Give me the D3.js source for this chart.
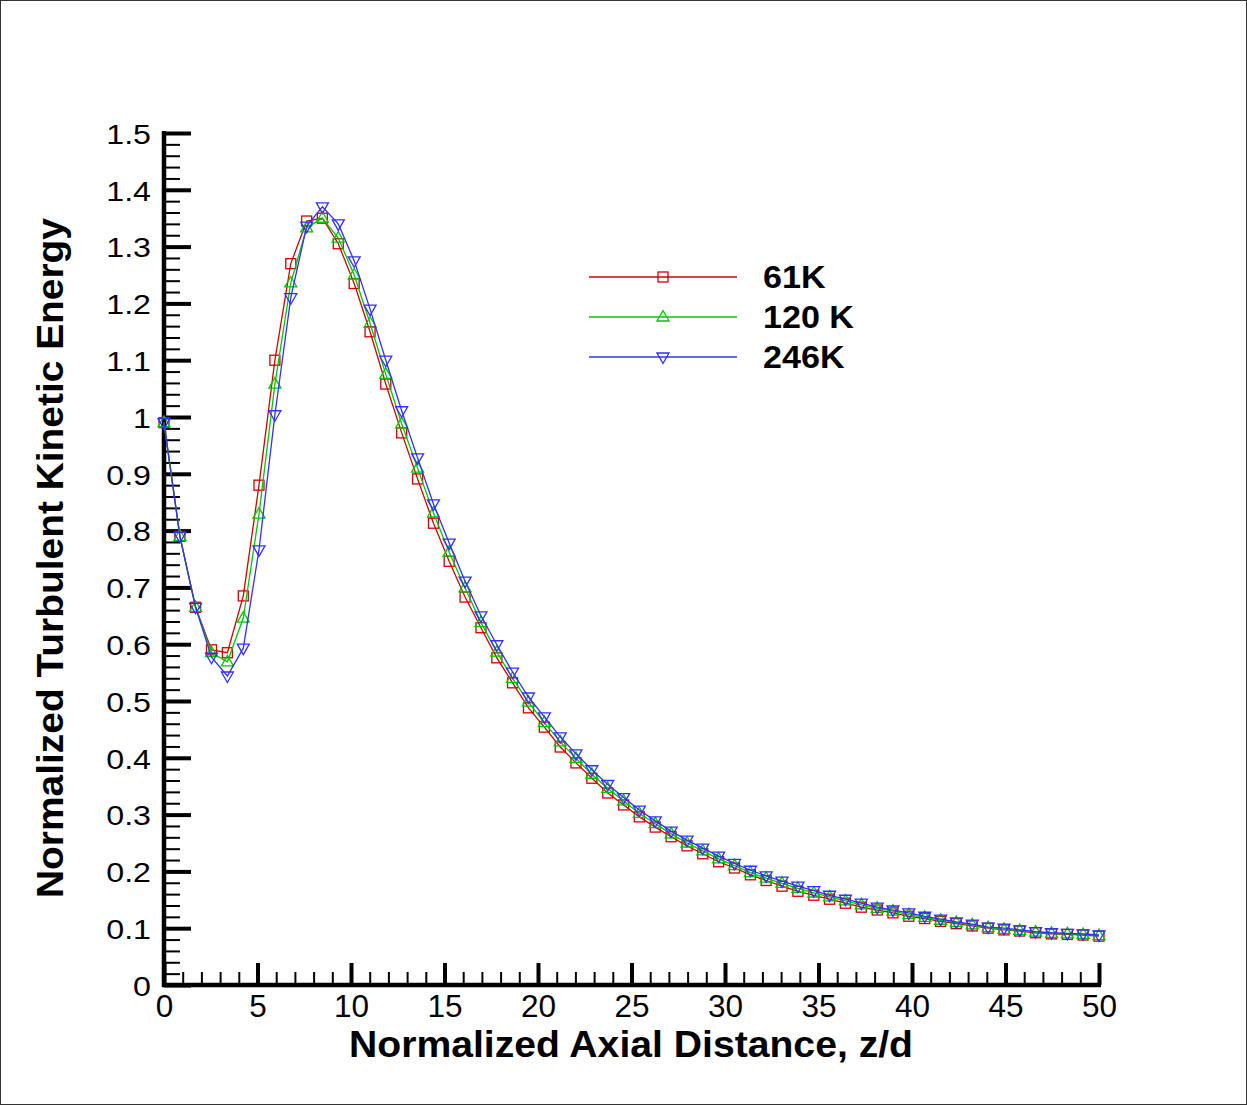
<!DOCTYPE html>
<html><head><meta charset="utf-8">
<script src="https://cdn.jsdelivr.net/npm/d3@7"></script>
<style>
html,body{margin:0;padding:0;background:#fff;}
svg{display:block;font-family:"Liberation Sans",Arial,Helvetica,sans-serif;}
</style></head>
<body><svg id="c" width="1247" height="1105"></svg>
<script>
const zd = [0,0.85,1.69,2.54,3.39,4.24,5.08,5.93,6.78,7.63,8.47,9.32,10.17,11.02,11.86,12.71,13.56,14.41,15.25,16.10,16.95,17.80,18.64,19.49,20.34,21.19,22.03,22.88,23.73,24.58,25.42,26.27,27.12,27.97,28.81,29.66,30.51,31.36,32.20,33.05,33.90,34.75,35.59,36.44,37.29,38.14,38.98,39.83,40.68,41.53,42.37,43.22,44.07,44.92,45.76,46.61,47.46,48.31,49.15,50];
const tke61 = [0.99,0.79,0.665,0.59,0.585,0.685,0.88,1.10,1.27,1.345,1.35,1.305,1.235,1.15,1.058,0.972,0.891,0.813,0.746,0.683,0.629,0.576,0.532,0.488,0.454,0.419,0.391,0.364,0.338,0.317,0.296,0.278,0.261,0.245,0.231,0.217,0.206,0.194,0.184,0.174,0.165,0.158,0.151,0.144,0.137,0.132,0.127,0.121,0.117,0.112,0.108,0.104,0.100,0.097,0.095,0.092,0.090,0.089,0.088,0.086];
const tke120 = [0.99,0.79,0.665,0.585,0.569,0.646,0.829,1.058,1.236,1.333,1.35,1.315,1.25,1.165,1.075,0.988,0.910,0.831,0.762,0.699,0.638,0.586,0.540,0.498,0.462,0.428,0.399,0.371,0.346,0.324,0.302,0.284,0.266,0.250,0.236,0.222,0.210,0.198,0.188,0.179,0.170,0.162,0.155,0.148,0.141,0.135,0.130,0.124,0.119,0.114,0.110,0.106,0.101,0.098,0.096,0.093,0.091,0.090,0.089,0.087];
const tke246 = [0.99,0.79,0.665,0.577,0.544,0.593,0.766,1.004,1.21,1.336,1.37,1.34,1.275,1.19,1.10,1.011,0.928,0.847,0.778,0.711,0.650,0.599,0.551,0.507,0.472,0.437,0.407,0.379,0.353,0.330,0.308,0.289,0.271,0.255,0.241,0.227,0.214,0.202,0.192,0.183,0.174,0.166,0.158,0.151,0.144,0.137,0.132,0.127,0.121,0.116,0.111,0.107,0.102,0.100,0.097,0.094,0.092,0.091,0.090,0.088];
const seriesNames = ["61K","120 K","246K"];
const xMajorTicks = [0,5,10,15,20,25,30,35,40,45,50];
const xMinorTicks = [1,2,3,4,6,7,8,9,11,12,13,14,16,17,18,19,21,22,23,24,26,27,28,29,31,32,33,34,36,37,38,39,41,42,43,44,46,47,48,49];
const yMajorTicks = [0,0.1,0.2,0.3,0.4,0.5,0.6,0.7,0.8,0.9,1,1.1,1.2,1.3,1.4,1.5];
const yMinorTicks = [];
yMajorTicks.slice(0,-1).forEach(v=>{for(let k=1;k<5;k++) yMinorTicks.push(+(v+k*0.02).toFixed(2));});
const xTitle = "Normalized Axial Distance, z/d";
const yTitle = "Normalized Turbulent Kinetic Energy";

const colors = ["#d40000","#00c800","#3030ff"];
const shapes = ["square","up","down"];
const data = [tke61,tke120,tke246];

const svg = d3.select("#c");
svg.append("rect").attr("x",0.5).attr("y",0.5).attr("width",1246).attr("height",1104)
  .attr("fill","#fff").attr("stroke","#333").attr("stroke-width",1);

const x = d3.scaleLinear().domain([0,50]).range([164,1099]);
const y = d3.scaleLinear().domain([0,1.5]).range([985,133]);

// minor ticks
const gyMin = svg.append("g").attr("transform","translate(164,0)")
  .call(d3.axisLeft(y).tickValues(yMinorTicks).tickSizeInner(-16).tickSizeOuter(0).tickFormat(""));
gyMin.select(".domain").remove();
gyMin.selectAll("line").attr("stroke","#000").attr("stroke-width",2);
const gxMin = svg.append("g").attr("transform","translate(0,985)")
  .call(d3.axisBottom(x).tickValues(xMinorTicks).tickSizeInner(-13).tickSizeOuter(0).tickFormat(""));
gxMin.select(".domain").remove();
gxMin.selectAll("line").attr("stroke","#000").attr("stroke-width",2);

// major ticks
const gy = svg.append("g").attr("transform","translate(164,0)")
  .call(d3.axisLeft(y).tickValues(yMajorTicks).tickSizeInner(-27).tickSizeOuter(0).tickPadding(13).tickFormat(d=>d3.format("")(+d.toFixed(1))));
gy.select(".domain").remove();
gy.selectAll("line").attr("stroke","#000").attr("stroke-width",4);
gy.selectAll("text").attr("font-size",28.5).attr("fill","#000").attr("font-family","Liberation Sans, Arial, sans-serif")
  .attr("dy","0.36em").attr("x",0).attr("transform","translate(-13,0) scale(1.13,1)");

const gx = svg.append("g").attr("transform","translate(0,985)")
  .call(d3.axisBottom(x).tickValues(xMajorTicks).tickSizeInner(-22).tickSizeOuter(0).tickPadding(10));
gx.select(".domain").remove();
gx.selectAll("line").attr("stroke","#000").attr("stroke-width",4);
gx.selectAll("text").attr("font-size",31.5).attr("fill","#000").attr("font-family","Liberation Sans, Arial, sans-serif");

// axis lines
svg.append("line").attr("x1",164).attr("x2",164).attr("y1",131).attr("y2",987).attr("stroke","#000").attr("stroke-width",4.5);
svg.append("line").attr("x1",162).attr("x2",1101).attr("y1",985).attr("y2",985).attr("stroke","#000").attr("stroke-width",4.5);

// titles
svg.append("text").attr("x",631).attr("y",1057).attr("text-anchor","middle")
  .attr("font-size",37).attr("font-weight","bold")
  .attr("textLength",564).attr("lengthAdjust","spacingAndGlyphs").text(xTitle);
svg.append("text").attr("transform","translate(63,558) rotate(-90)").attr("text-anchor","middle")
  .attr("font-size",37).attr("font-weight","bold")
  .attr("textLength",680).attr("lengthAdjust","spacingAndGlyphs").text(yTitle);

function marker(g, shape, cx, cy, color){
  if(shape==="square"){
    g.append("rect").attr("x",cx-5).attr("y",cy-5).attr("width",10).attr("height",10)
      .attr("fill","none").attr("stroke",color).attr("stroke-width",1.3);
  } else if(shape==="up"){
    g.append("path").attr("d",`M${cx},${cy-6.5}L${cx+6},${cy+4}L${cx-6},${cy+4}Z`)
      .attr("fill","none").attr("stroke",color).attr("stroke-width",1.3);
  } else {
    g.append("path").attr("d",`M${cx},${cy+6.5}L${cx+6},${cy-4}L${cx-6},${cy-4}Z`)
      .attr("fill","none").attr("stroke",color).attr("stroke-width",1.3);
  }
}

const line = d3.line().x((d,i)=>x(zd[i])).y(d=>y(d));
data.forEach((s,k)=>{
  const g = svg.append("g");
  g.append("path").attr("d",line(s)).attr("fill","none").attr("stroke",colors[k]).attr("stroke-width",1.3);
  s.forEach((v,i)=>marker(g,shapes[k],x(zd[i]),y(v),colors[k]));
});

// legend
const legY = [277,317,357];
seriesNames.forEach((n,k)=>{
  const g = svg.append("g");
  g.append("line").attr("x1",589).attr("x2",737).attr("y1",legY[k]).attr("y2",legY[k]).attr("stroke",colors[k]).attr("stroke-width",1.3);
  marker(g,shapes[k],663,legY[k],colors[k]);
  g.append("text").attr("x",0).attr("y",0)
    .attr("transform",`translate(763,${legY[k]+11}) scale(1.1,1)`)
    .attr("font-size",31).attr("font-weight","bold").text(n);
});
</script></body></html>
